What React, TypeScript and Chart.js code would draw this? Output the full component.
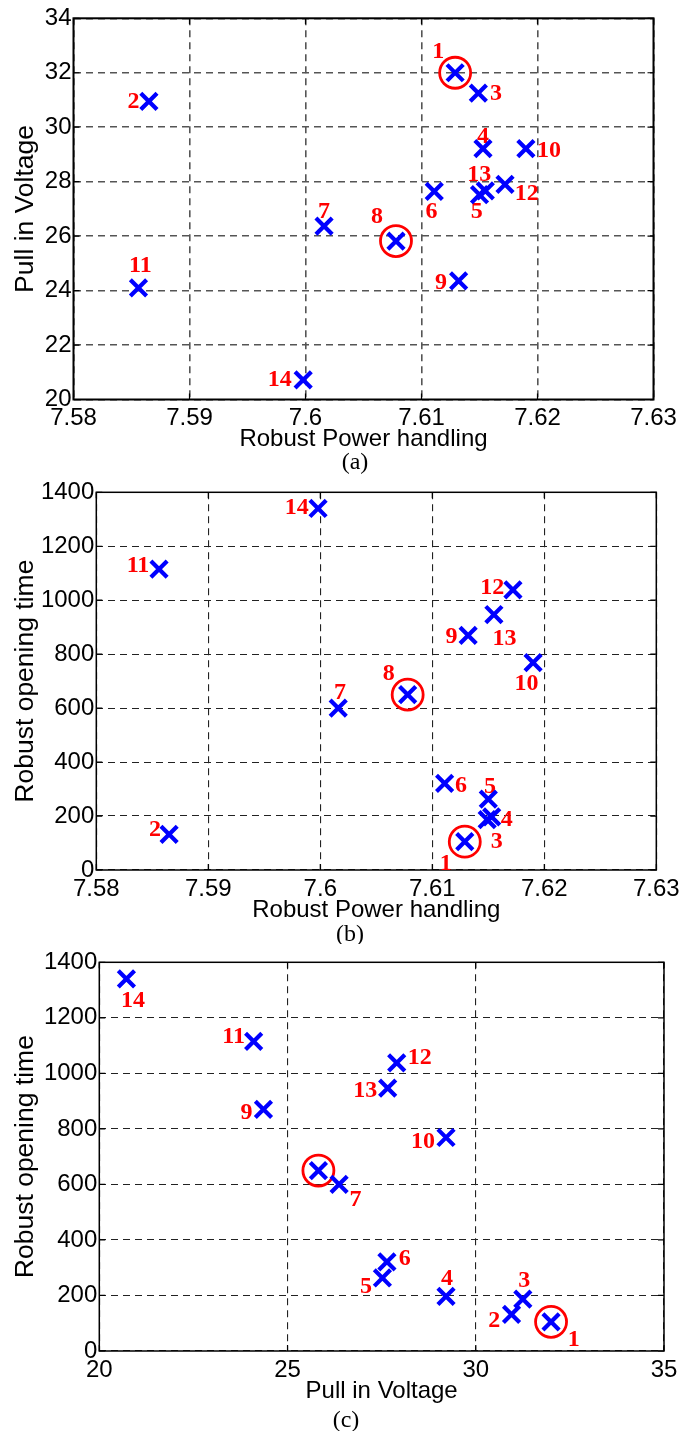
import React, { useEffect, useRef } from 'react';
import { Chart, registerables } from 'chart.js';

Chart.register(...registerables);

// ---------- data ----------
const pointNames = ['1', '2', '3', '4', '5', '6', '7', '8', '9', '10', '11', '12', '13', '14'];
const powerHandling = [7.6129, 7.5865, 7.6149, 7.6153, 7.615, 7.6111, 7.6016, 7.6078, 7.6132, 7.619, 7.5856, 7.6172, 7.6155, 7.5998];
const pullInVoltage = [32.0, 30.95, 31.25, 29.21, 27.52, 27.64, 26.37, 25.82, 24.36, 29.21, 24.1, 27.9, 27.66, 20.72];
const openingTime = [105, 132, 187, 197, 263, 321, 600, 650, 870, 769, 1115, 1038, 947, 1340];
const highlighted = [0, 7];

const powerTicks = [7.58, 7.59, 7.6, 7.61, 7.62, 7.63];
const pullTicks = [20, 22, 24, 26, 28, 30, 32, 34];
const pullTicksC = [20, 25, 30, 35];
const timeTicks = [0, 200, 400, 600, 800, 1000, 1200, 1400];

// label offsets (style only): [dx, dy] from each marker, null = no label
const offsetsA: (number[] | null)[] = [
  [-17, -21], [-15.5, 0], [17.7, 1], [0, -12], [-2.7, 16.7], [-2.7, 20], [0, -14.3],
  [-19, -24.7], [-17.7, 1.7], [23, 2], [2, -21.7], [21.7, 9], [-6, -16], [-23.5, 0],
];
const offsetsB: (number[] | null)[] = [
  [-19, 21.7], [-14, -5], [9.5, 22.5], [15, 3], [1.7, -12.7], [16.3, 2.7], [1.8, -15.7],
  [-19, -20.7], [-16.7, 2], [-6.7, 21], [-21, -3.3], [-20.7, -1.7], [10.7, 24], [-21.3, -1],
];
const offsetsC: (number[] | null)[] = [
  [22.7, 17.7], [-17.4, 6.7], [1.3, -18.3], [1, -17.7], [-16.5, 9], [17.8, -3.3], [16.5, 15],
  null, [-17, 3.3], [-23, 4.7], [-20, -4.3], [23, -5], [-22.3, 2.7], [6.7, 21.7],
];

type Panel = {
  key: string;
  x: number[];
  y: number[];
  xTicks: number[];
  yTicks: number[];
  xTitle: string;
  yTitle: string;
  caption: string;
  top: number;
  height: number;
  plot: { left: number; right: number; top: number; bottom: number };
  captionX: number;
  captionDy: number;
  gridColor: string;
  gridWidth: number;
  frameWidth: number;
  offsets: (number[] | null)[];
};

const W = 698;
const SANS = '"Liberation Sans", Arial, Helvetica, sans-serif';
const SERIF = '"Liberation Serif", "Times New Roman", serif';

const panels: Panel[] = [
  {
    key: 'a', x: powerHandling, y: pullInVoltage, xTicks: powerTicks, yTicks: pullTicks,
    xTitle: 'Robust Power handling', yTitle: 'Pull in Voltage', caption: '(a)',
    top: 0, height: 474, plot: { left: 73.5, right: 653.5, top: 16, bottom: 399.5 },
    captionX: 355, captionDy: 63, gridColor: '#555', gridWidth: 1.6, frameWidth: 2, offsets: offsetsA,
  },
  {
    key: 'b', x: powerHandling, y: openingTime, xTicks: powerTicks, yTicks: timeTicks,
    xTitle: 'Robust Power handling', yTitle: 'Robust opening time', caption: '(b)',
    top: 474, height: 470, plot: { left: 96.3, right: 656.3, top: 16, bottom: 396 },
    captionX: 350, captionDy: 65, gridColor: '#222', gridWidth: 1.1, frameWidth: 1.5, offsets: offsetsB,
  },
  {
    key: 'c', x: pullInVoltage, y: openingTime, xTicks: pullTicksC, yTicks: timeTicks,
    xTitle: 'Pull in Voltage', yTitle: 'Robust opening time', caption: '(c)',
    top: 944, height: 487, plot: { left: 99.3, right: 664, top: 18, bottom: 407 },
    captionX: 346, captionDy: 70, gridColor: '#222', gridWidth: 1.1, frameWidth: 1.5, offsets: offsetsC,
  },
];

const fmt = (v: number) => String(Number(Number(v).toFixed(2)));

function ScatterPanel({ p }: { p: Panel }) {
  const ref = useRef<HTMLCanvasElement>(null);

  useEffect(() => {
    const canvas = ref.current;
    if (!canvas) return;
    const pts = p.x.map((xv, i) => ({ x: xv, y: p.y[i] }));
    const circ = highlighted.map((i) => ({ x: p.x[i], y: p.y[i] }));
    const XH = 54.4;

    const overlay = {
      id: 'overlay' + p.key,
      beforeDatasetsDraw(chart: any) {
        const { ctx, chartArea: a, scales } = chart;
        const xs = scales.x;
        const ys = scales.y;
        ctx.save();
        ctx.setLineDash([]);
        ctx.strokeStyle = '#000';
        ctx.lineWidth = p.frameWidth;
        ctx.strokeRect(a.left, a.top, a.right - a.left, a.bottom - a.top);
        ctx.lineWidth = 1.2;
        ctx.beginPath();
        p.xTicks.forEach((v) => {
          const px = xs.getPixelForValue(v);
          ctx.moveTo(px, a.bottom);
          ctx.lineTo(px, a.bottom - 6);
          ctx.moveTo(px, a.top);
          ctx.lineTo(px, a.top + 6);
        });
        p.yTicks.forEach((v) => {
          const py = ys.getPixelForValue(v);
          ctx.moveTo(a.left, py);
          ctx.lineTo(a.left + 6, py);
          ctx.moveTo(a.right, py);
          ctx.lineTo(a.right - 6, py);
        });
        ctx.stroke();

        const meta = chart.getDatasetMeta(0);
        ctx.font = 'bold 24px ' + SERIF;
        ctx.fillStyle = '#ff0000';
        ctx.textAlign = 'center';
        ctx.textBaseline = 'middle';
        pointNames.forEach((name, i) => {
          const off = p.offsets[i];
          const el = meta.data[i];
          if (!off || !el) return;
          ctx.fillText(name, el.x + off[0], el.y + off[1]);
        });
        ctx.restore();
      },
      afterDraw(chart: any) {
        const { ctx, chartArea: a } = chart;
        ctx.save();
        ctx.font = '24px ' + SERIF;
        ctx.fillStyle = '#000';
        ctx.textAlign = 'center';
        ctx.textBaseline = 'middle';
        ctx.fillText(p.caption, p.captionX, a.bottom + p.captionDy);
        ctx.restore();
      },
    };

    const tickFont = { family: SANS, size: 24, lineHeight: 1.2 };

    const chart = new Chart(canvas, {
      type: 'scatter',
      data: {
        datasets: [
          {
            data: pts,
            pointStyle: 'crossRot',
            radius: 11.5,
            hoverRadius: 11.5,
            borderWidth: 4.2,
            hoverBorderWidth: 4.2,
            borderColor: '#0000ff',
            backgroundColor: '#0000ff',
          },
          {
            data: circ,
            pointStyle: 'circle',
            radius: 15.5,
            hoverRadius: 15.5,
            borderWidth: 2.8,
            hoverBorderWidth: 2.8,
            borderColor: '#ff0000',
            backgroundColor: 'rgba(0,0,0,0)',
          },
        ],
      },
      options: {
        responsive: false,
        animation: false,
        events: [],
        layout: {
          padding: {
            top: p.plot.top,
            left: 0,
            right: W - p.plot.right,
            bottom: p.height - p.plot.bottom - XH,
          },
        },
        plugins: { legend: { display: false }, tooltip: { enabled: false } },
        scales: {
          x: {
            type: 'linear',
            min: p.xTicks[0],
            max: p.xTicks[p.xTicks.length - 1],
            afterBuildTicks: (s: any) => {
              s.ticks = p.xTicks.map((v) => ({ value: v }));
            },
            afterFit: (s: any) => {
              s.height = XH;
            },
            ticks: {
              font: tickFont,
              color: '#000',
              padding: 4.5,
              autoSkip: false,
              maxRotation: 0,
              minRotation: 0,
              callback: (v: any) => fmt(v),
            },
            grid: { color: p.gridColor, lineWidth: p.gridWidth, drawTicks: false },
            border: { display: false, dash: [7, 5] },
            title: {
              display: true,
              text: p.xTitle,
              color: '#000',
              font: { family: SANS, size: 24, lineHeight: 1.2 },
              padding: { top: 0, bottom: 0 },
            },
          },
          y: {
            type: 'linear',
            min: p.yTicks[0],
            max: p.yTicks[p.yTicks.length - 1],
            afterBuildTicks: (s: any) => {
              s.ticks = p.yTicks.map((v) => ({ value: v }));
            },
            afterFit: (s: any) => {
              s.width = p.plot.left;
            },
            ticks: {
              font: tickFont,
              color: '#000',
              padding: 2,
              autoSkip: false,
              callback: (v: any) => fmt(v),
            },
            grid: { color: p.gridColor, lineWidth: p.gridWidth, drawTicks: false },
            border: { display: false, dash: [7, 5] },
            title: {
              display: true,
              text: p.yTitle,
              color: '#000',
              font: { family: SANS, size: 26.5, lineHeight: 1.2 },
              padding: { top: 9.5, bottom: 0 },
            },
          },
        },
      },
      plugins: [overlay],
    } as any);

    return () => chart.destroy();
  }, [p]);

  return (
    <div style={{ position: 'absolute', left: 0, top: p.top, width: W, height: p.height }}>
      <canvas ref={ref} width={W} height={p.height} style={{ display: 'block', width: W, height: p.height }} />
    </div>
  );
}

export default function App() {
  return (
    <div style={{ position: 'absolute', left: 0, top: 0, width: W, height: 1431, background: '#fff' }}>
      {panels.map((p) => (
        <ScatterPanel key={p.key} p={p} />
      ))}
    </div>
  );
}
